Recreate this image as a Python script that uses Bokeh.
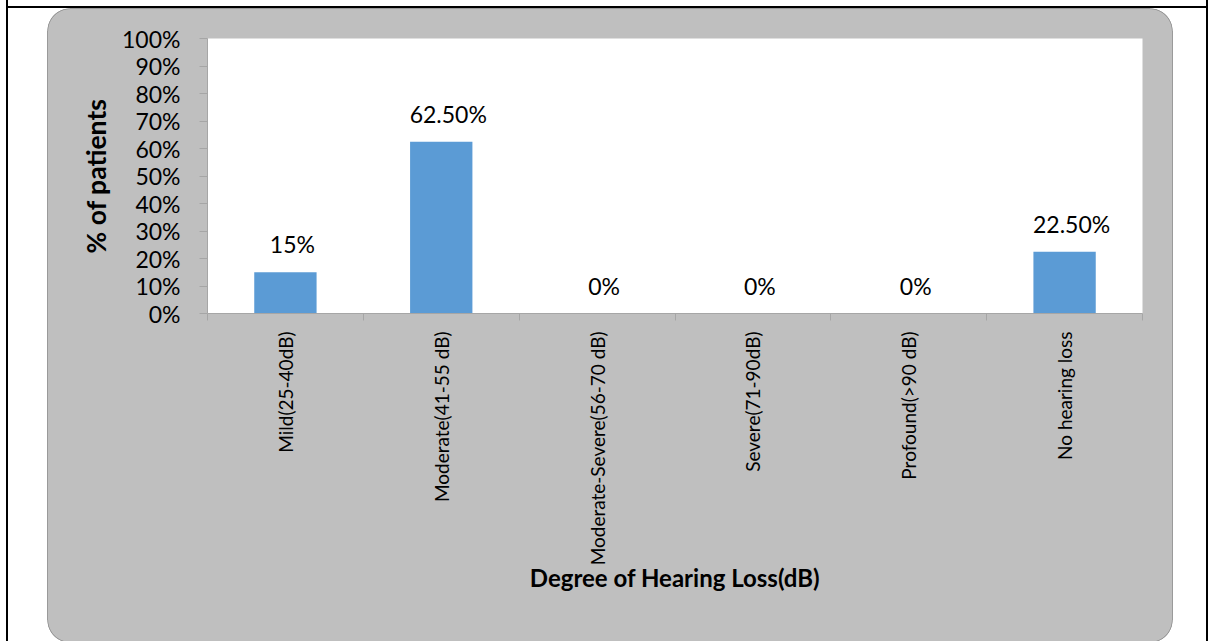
import math
from bokeh.plotting import figure
from bokeh.models import Range1d, FixedTicker, NumeralTickFormatter
from bokeh.core.properties import value
from bokeh.embed import file_html
from bokeh.resources import INLINE

# ---- data ----
categories = ["Mild(25-40dB)", "Moderate(41-55 dB)", "Moderate-Severe(56-70 dB)",
              "Severe(71-90dB)", "Profound(>90 dB)", "No hearing loss"]
percent_values = [0.15, 0.625, 0.0, 0.0, 0.0, 0.225]
value_labels = ["15%", "62.50%", "0%", "0%", "0%", "22.50%"]
y_ticks = [0.0, 0.1, 0.2, 0.3, 0.4, 0.5, 0.6, 0.7, 0.8, 0.9, 1.0]
x_title = "Degree of Hearing Loss(dB)"
y_title = "% of patients"

positions = [i + 0.5 for i in range(len(categories))]
bounds = list(range(len(categories) + 1))

FONT = "Lato"
AXIS_GREY = "#A6A6A6"
GREY = "#BFBFBF"
EDGE = "#9A9A9A"


def solid(color, x, y, w, h):
    return f"linear-gradient({color},{color}) {x}px {y}px / {w}px {h}px no-repeat"


def disc(color, x, y, r):
    return (f"radial-gradient(circle at {r}px {r}px, {color} {r - 0.6}px, transparent {r}px) "
            f"{x}px {y}px / {2 * r}px {2 * r}px no-repeat")


def rounded(color, l, t, r, b, rad):
    return [solid(color, l + rad, t, r - l - 2 * rad, b - t),
            solid(color, l, t + rad, r - l, b - t - 2 * rad),
            disc(color, l, t, rad), disc(color, r - 2 * rad, t, rad),
            disc(color, l, b - 2 * rad, rad), disc(color, r - 2 * rad, b - 2 * rad, rad)]


# page background: table-cell border lines + grey rounded chart area with a thin edge
layers = [solid("#000", 6, 6, 1202, 2), solid("#000", 6, 0, 2, 641), solid("#000", 1206, 0, 2, 641)]
layers += rounded(GREY, 48, 9, 1172, 642, 22)
layers += rounded(EDGE, 47, 8, 1173, 643, 23)
layers.append("#ffffff")

p = figure(width=1208, height=641, output_backend="svg", toolbar_location=None, title=None,
           x_range=Range1d(0, len(categories)), y_range=Range1d(0, 1),
           min_border_left=207, min_border_right=66, min_border_top=38, min_border_bottom=328,
           background_fill_color="white", border_fill_color="white", border_fill_alpha=0,
           outline_line_color=None, styles={"background": ", ".join(layers)})
p.xgrid.visible = False
p.ygrid.visible = False

# bars
p.vbar(x=positions, top=percent_values, width=0.4, fill_color="#5B9BD5", line_color=None)

# data labels
p.text(x=positions, y=percent_values, text=value_labels, x_offset=7, y_offset=-28,
       text_align="center", text_baseline="middle", text_font=value(FONT),
       text_font_size="23px", text_color="black")

# x axis
xa = p.xaxis[0]
xa.ticker = FixedTicker(ticks=positions, minor_ticks=bounds)
xa.major_label_overrides = {pos: c for pos, c in zip(positions, categories)}
xa.major_label_orientation = math.pi / 2
xa.major_tick_out = 0
xa.major_tick_in = 0
xa.minor_tick_out = 7
xa.minor_tick_in = 0
xa.axis_line_color = AXIS_GREY
xa.minor_tick_line_color = AXIS_GREY
xa.major_label_standoff = 11
xa.major_label_text_font = FONT
xa.major_label_text_font_size = "19px"
xa.major_label_text_color = "black"
xa.axis_label = x_title
xa.axis_label_text_font = FONT
xa.axis_label_text_font_style = "bold"
xa.axis_label_text_font_size = "24px"
xa.axis_label_text_color = "black"
xa.axis_label_standoff = -5

# y axis
ya = p.yaxis[0]
ya.ticker = FixedTicker(ticks=y_ticks)
ya.formatter = NumeralTickFormatter(format="0%")
ya.major_tick_out = 8
ya.major_tick_in = 0
ya.minor_tick_line_color = None
ya.axis_line_color = AXIS_GREY
ya.major_tick_line_color = AXIS_GREY
ya.major_label_standoff = 19
ya.major_label_text_font = FONT
ya.major_label_text_font_size = "23px"
ya.major_label_text_color = "black"
ya.axis_label = y_title
ya.axis_label_text_font = FONT
ya.axis_label_text_font_style = "bold"
ya.axis_label_text_font_size = "26.5px"
ya.axis_label_text_color = "black"
ya.axis_label_standoff = 7

open("out.html", "w").write(file_html(p, INLINE))
